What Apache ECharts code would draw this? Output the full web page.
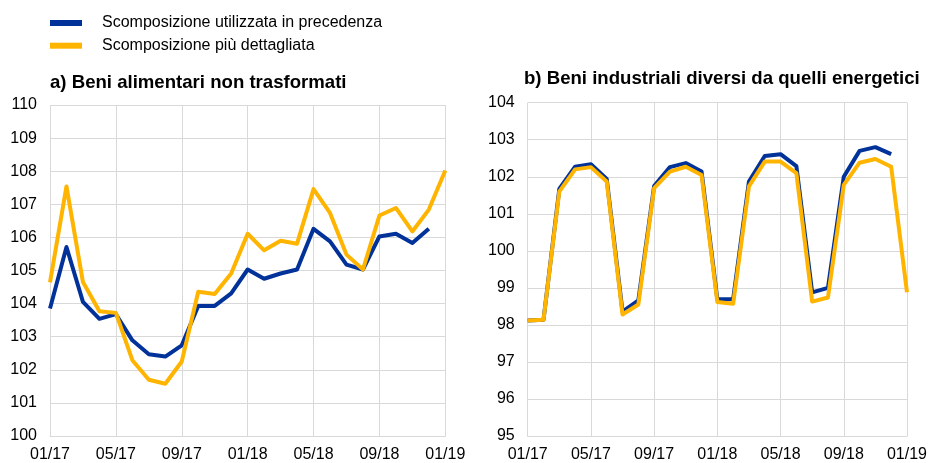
<!DOCTYPE html>
<html>
<head>
<meta charset="utf-8">
<script src="https://cdn.jsdelivr.net/npm/echarts@6/dist/echarts.min.js"></script>
<style>
  html, body { margin: 0; padding: 0; background: #fff; }
  #chart { width: 930px; height: 463px; }
</style>
</head>
<body>
<div id="chart"></div>
<script>
// Monthly index levels, January 2017 to January 2019
var months = ['01/17','02/17','03/17','04/17','05/17','06/17','07/17','08/17','09/17','10/17','11/17','12/17',
              '01/18','02/18','03/18','04/18','05/18','06/18','07/18','08/18','09/18','10/18','11/18','12/18','01/19'];

var seriesNames = ['Scomposizione utilizzata in precedenza', 'Scomposizione più dettagliata'];
var panelTitles = ['a) Beni alimentari non trasformati', 'b) Beni industriali diversi da quelli energetici'];

// a) unprocessed food
var foodPrev = [103.85, 105.71, 104.05, 103.54, 103.68, 102.89, 102.47, 102.40, 102.74, 103.93, 103.93, 104.31,
                105.03, 104.75, 104.91, 105.03, 106.26, 105.88, 105.18, 105.03, 106.03, 106.11, 105.83, 106.26, null];
var foodNew  = [104.64, 107.54, 104.65, 103.77, 103.72, 102.29, 101.70, 101.58, 102.25, 104.36, 104.29, 104.91,
                106.11, 105.61, 105.90, 105.81, 107.46, 106.74, 105.48, 105.03, 106.66, 106.89, 106.18, 106.84, 108.02];

// b) non-energy industrial goods
var industPrev = [98.12, 98.14, 101.67, 102.27, 102.34, 101.94, 98.36, 98.66, 101.75, 102.26, 102.37, 102.14,
                  98.69, 98.69, 101.87, 102.56, 102.61, 102.29, 98.88, 99.00, 102.00, 102.70, 102.80, 102.61, null];
var industNew  = [98.12, 98.14, 101.60, 102.20, 102.26, 101.87, 98.28, 98.55, 101.69, 102.14, 102.27, 102.05,
                  98.62, 98.57, 101.74, 102.41, 102.41, 102.10, 98.63, 98.74, 101.78, 102.38, 102.48, 102.27, 98.88];

var BLUE = '#003299';
var YELLOW = '#FFB400';
var GRID_COLOR = '#d9d9d9';
var FONT = '"Liberation Sans", Arial, sans-serif';

var chart = echarts.init(document.getElementById('chart'), null, { renderer: 'canvas' });

function xAxisFor(gridIndex) {
  return {
    type: 'category',
    gridIndex: gridIndex,
    data: months,
    boundaryGap: false,
    axisLine: { show: true, lineStyle: { color: GRID_COLOR, width: 1 } },
    axisTick: { show: false },
    axisLabel: {
      interval: 3, margin: 11, color: '#000',
      fontFamily: FONT, fontSize: 16
    },
    splitLine: { show: true, interval: 3, lineStyle: { color: GRID_COLOR, width: 1 } }
  };
}

function yAxisFor(gridIndex, min, max) {
  return {
    type: 'value',
    gridIndex: gridIndex,
    min: min, max: max, interval: 1,
    axisLine: { show: false },
    axisTick: { show: false },
    axisLabel: { margin: 13, color: '#000', fontFamily: FONT, fontSize: 16 },
    splitLine: { show: true, lineStyle: { color: GRID_COLOR, width: 1 } }
  };
}

function lineSeries(name, data, color, idx) {
  return {
    name: name,
    type: 'line',
    xAxisIndex: idx, yAxisIndex: idx,
    data: data,
    showSymbol: false,
    symbol: 'none',
    connectNulls: false,
    animation: false,
    lineStyle: { color: color, width: 4, join: 'round', cap: 'butt' },
    itemStyle: { color: color }
  };
}

// Legend drawn as two swatch + label rows
var legendGraphics = [];
[BLUE, YELLOW].forEach(function (c, i) {
  var cy = 23 + i * 22.7;
  legendGraphics.push({
    type: 'rect', left: 50, top: cy - 3,
    shape: { width: 32, height: 6 },
    style: { fill: c }
  });
  legendGraphics.push({
    type: 'text', left: 102, top: cy - 8.5,
    style: { text: seriesNames[i], fill: '#000', font: '16px ' + FONT }
  });
});

chart.setOption({
  animation: false,
  backgroundColor: '#fff',
  title: [
    { text: panelTitles[0], left: 50, top: 73,
      padding: 0,
      textStyle: { fontFamily: FONT, fontWeight: 'bold', fontSize: 18.6, color: '#000' } },
    { text: panelTitles[1], left: 524, top: 69,
      padding: 0,
      textStyle: { fontFamily: FONT, fontWeight: 'bold', fontSize: 18.6, color: '#000' } }
  ],
  graphic: legendGraphics,
  grid: [
    { left: 50, right: 484.7, top: 105, bottom: 25.7 },
    { left: 527.7, right: 20.7, top: 102.7, bottom: 26.3 }
  ],
  xAxis: [xAxisFor(0), xAxisFor(1)],
  yAxis: [yAxisFor(0, 100, 110), yAxisFor(1, 95, 104)],
  series: [
    lineSeries(seriesNames[0], foodPrev, BLUE, 0),
    lineSeries(seriesNames[1], foodNew, YELLOW, 0),
    lineSeries(seriesNames[0], industPrev, BLUE, 1),
    lineSeries(seriesNames[1], industNew, YELLOW, 1)
  ]
});
</script>
</body>
</html>
